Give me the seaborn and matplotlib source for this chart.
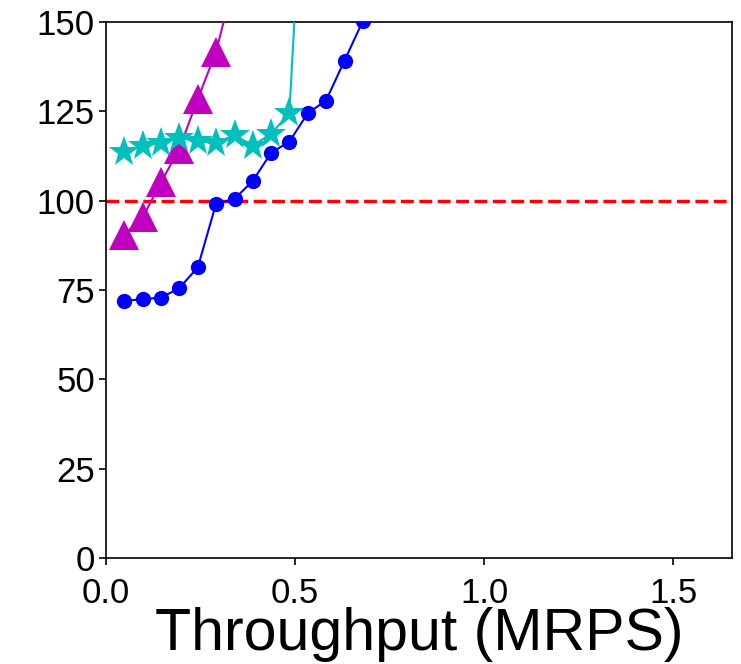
import matplotlib
matplotlib.use("Agg")
import matplotlib.pyplot as plt
import seaborn as sns
import pandas as pd

# Data (throughput in MRPS, latency in us)
x_blue = [0.048, 0.097, 0.146, 0.194, 0.243, 0.291, 0.340, 0.388, 0.437, 0.485,
          0.534, 0.582, 0.631, 0.680, 0.730]
y_blue = [72.0, 72.4, 72.9, 75.5, 81.4, 99.1, 100.5, 105.5, 113.4, 116.5,
          124.5, 128.0, 139.2, 150.4, 175.0]

x_mag = [0.048, 0.097, 0.146, 0.194, 0.243, 0.291, 0.340]
y_mag = [90.5, 95.3, 105.2, 114.5, 128.5, 141.6, 162.0]

x_cyan = [0.048, 0.097, 0.146, 0.194, 0.243, 0.291, 0.340, 0.388, 0.437, 0.485, 0.534]
y_cyan = [113.7, 115.4, 116.1, 117.5, 116.7, 116.1, 118.4, 115.4, 118.7, 124.5, 218.0]

slo = 100
y_ticks = [0, 25, 50, 75, 100, 125, 150]
x_ticks = [0.0, 0.5, 1.0, 1.5]

sns.set_style("ticks")
plt.rcParams['font.family'] = ['Liberation Sans', 'DejaVu Sans']
plt.rcParams['text.color'] = 'black'
plt.rcParams['axes.labelcolor'] = 'black'
plt.rcParams['xtick.color'] = 'black'
plt.rcParams['ytick.color'] = 'black'
plt.rcParams['axes.edgecolor'] = 'black'

fig = plt.figure(figsize=(7.41, 6.64), dpi=100)
ax = fig.add_axes([106/741, 1-558/664, (732-106)/741, (558-22)/664])

df_b = pd.DataFrame({"x": x_blue, "y": y_blue})
df_m = pd.DataFrame({"x": x_mag, "y": y_mag})
df_c = pd.DataFrame({"x": x_cyan, "y": y_cyan})

sns.lineplot(data=df_m, x="x", y="y", ax=ax, color="m", marker="^", markersize=21,
             markeredgewidth=0, linewidth=1.5, sort=False, zorder=3)
sns.lineplot(data=df_c, x="x", y="y", ax=ax, color="c", marker="*", markersize=23,
             markeredgewidth=0, linewidth=1.5, sort=False, zorder=4)
sns.lineplot(data=df_b, x="x", y="y", ax=ax, color="b", marker="o", markersize=11,
             markeredgewidth=0, linewidth=1.5, sort=False, zorder=5)
ax.axhline(slo, color="r", linestyle="--", linewidth=2.5, zorder=2)

ax.set_xlim(0, 1.656)
ax.set_ylim(0, 150)
ax.set_xticks(x_ticks)
ax.set_yticks(y_ticks)
ax.tick_params(labelsize=25, direction="out", length=5, width=1.2, colors="black")
ax.tick_params(axis="x", pad=9)
ax.tick_params(axis="y", pad=3)
for s in ax.spines.values():
    s.set_linewidth(1.2)
    s.set_visible(True)
    s.set_color("black")
ax.set_xlabel("Throughput (MRPS)", fontsize=42.5, labelpad=-2.5, color="black")
ax.set_ylabel("")

fig.savefig("out.png", dpi=100)
